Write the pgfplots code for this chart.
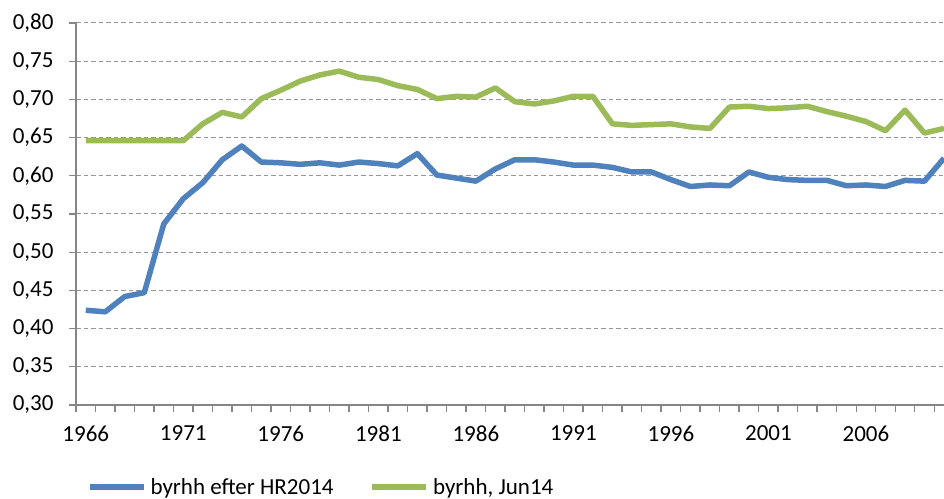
\documentclass[border=0pt]{standalone}
\usepackage{fontspec}
\setmainfont{Carlito}
\usepackage{pgfplots}
\pgfplotsset{compat=1.18}
\definecolor{exblue}{HTML}{4F81BD}
\definecolor{exgreen}{HTML}{9BBB59}
\definecolor{exgrid}{HTML}{969696}
\definecolor{exaxis}{HTML}{868686}
\begin{document}
\begin{tikzpicture}[font=\fontsize{23bp}{27bp}\selectfont]
\path[use as bounding box] (0,0) rectangle (944bp,499bp);
\begin{axis}[
  at={(76bp,94bp)}, anchor=south west,
  scale only axis, width=868bp, height=382bp,
  xmin=1965.5, xmax=2010, ymin=0.30, ymax=0.80,
  axis x line*=bottom, axis y line*=left,
  axis line style={draw=exaxis, line width=1.5bp, -},
  tick align=outside,
  major tick length=7bp,
  tick style={draw=exaxis, line width=1.3bp},
  ytick={0.30,0.35,...,0.801},
  ymajorgrids,
  major grid style={draw=exgrid, line width=1bp, dash pattern=on 4.5bp off 3bp},
  xtick={1965.5,1966.5,...,2009.6},
  xticklabels={},
  extra x ticks={1966,1971,...,2006},
  extra x tick style={major tick length=0pt, xticklabel style={yshift=-17bp}},
  extra x tick labels={1966,1971,1976,1981,1986,1991,1996,2001,2006},
  /pgf/number format/assume math mode=true,
  /pgf/number format/1000 sep={},
  yticklabel={\pgfmathprintnumber[fixed,fixed zerofill,precision=2,use comma]{\tick}},
  yticklabel style={xshift=-12bp},
  tick label style={font=\fontsize{23bp}{27bp}\selectfont},
  legend columns=2,
  legend style={at={(0.0127,-0.215)}, anchor=west, draw=none, fill=none,
    inner sep=0pt, outer sep=0pt, nodes={inner sep=0pt},
    font=\fontsize{23bp}{27bp}\selectfont,
    /tikz/every odd column/.append style={column sep=4bp},
    /tikz/every even column/.append style={column sep=36bp}},
  legend image code/.code={\draw[#1] (0bp,0bp) -- (54bp,0bp);},
  every axis plot/.append style={line width=5.5bp, line join=round},
]
\addplot[color=exblue] coordinates {
(1966,0.424)(1967,0.422)(1968,0.442)(1969,0.447)(1970,0.537)(1971,0.570)
(1972,0.591)(1973,0.621)(1974,0.639)(1975,0.618)(1976,0.617)(1977,0.615)
(1978,0.617)(1979,0.614)(1980,0.618)(1981,0.616)(1982,0.613)(1983,0.629)
(1984,0.601)(1985,0.597)(1986,0.593)(1987,0.609)(1988,0.621)(1989,0.621)
(1990,0.618)(1991,0.614)(1992,0.614)(1993,0.611)(1994,0.605)(1995,0.605)
(1996,0.595)(1997,0.586)(1998,0.588)(1999,0.587)(2000,0.605)(2001,0.598)
(2002,0.595)(2003,0.594)(2004,0.594)(2005,0.587)(2006,0.588)(2007,0.586)
(2008,0.594)(2009,0.593)(2010,0.623)};
\addlegendentry{byrhh efter HR2014}
\addplot[color=exgreen] coordinates {
(1966,0.646)(1967,0.646)(1968,0.646)(1969,0.646)(1970,0.646)(1971,0.646)
(1972,0.668)(1973,0.683)(1974,0.677)(1975,0.701)(1976,0.712)(1977,0.724)
(1978,0.732)(1979,0.737)(1980,0.729)(1981,0.726)(1982,0.718)(1983,0.713)
(1984,0.701)(1985,0.704)(1986,0.703)(1987,0.715)(1988,0.697)(1989,0.694)
(1990,0.698)(1991,0.704)(1992,0.704)(1993,0.668)(1994,0.666)(1995,0.667)
(1996,0.668)(1997,0.664)(1998,0.662)(1999,0.690)(2000,0.691)(2001,0.688)
(2002,0.689)(2003,0.691)(2004,0.684)(2005,0.678)(2006,0.671)(2007,0.659)
(2008,0.686)(2009,0.656)(2010,0.662)};
\addlegendentry{byrhh, Jun14}
\end{axis}
\end{tikzpicture}
\end{document}
